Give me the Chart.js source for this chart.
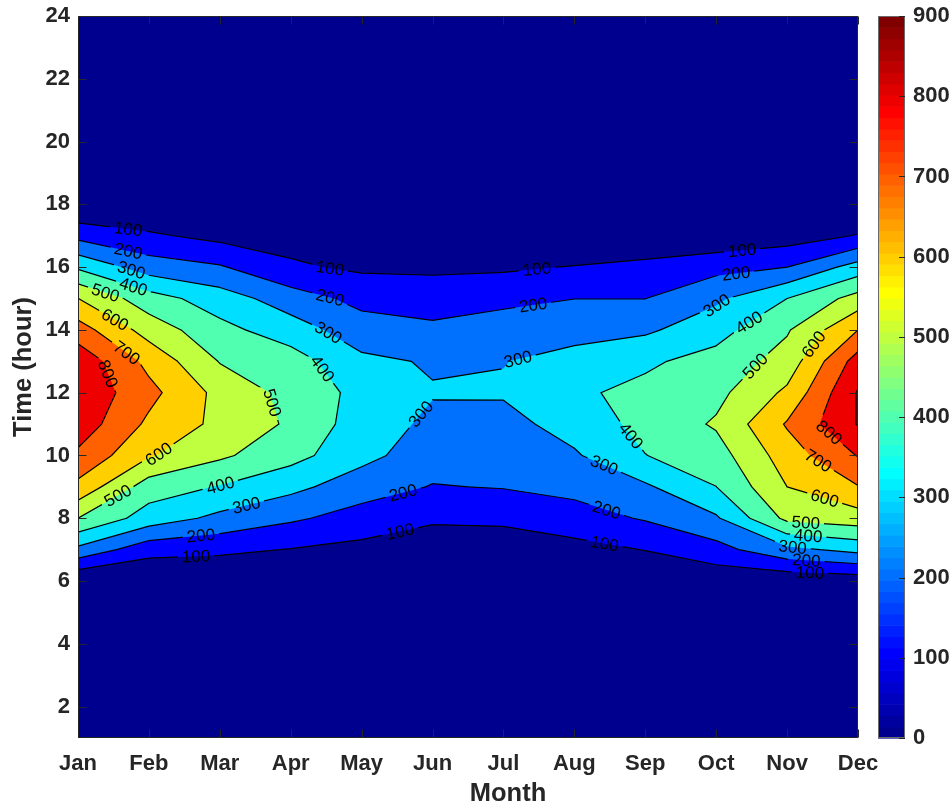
<!DOCTYPE html>
<html>
<head>
<meta charset="utf-8">
<script src="https://cdn.jsdelivr.net/npm/chart.js@4.4.1/dist/chart.umd.min.js"></script>
<style>
  html, body { margin: 0; padding: 0; background: #ffffff; }
  #wrap { width: 950px; height: 807px; }
</style>
</head>
<body>
<div id="wrap"><canvas id="chart" width="950" height="807"></canvas></div>
<script>
// Monthly mean radiation by hour of day (hours 1..24), one array per month.
const monthNames = ['Jan', 'Feb', 'Mar', 'Apr', 'May', 'Jun', 'Jul', 'Aug', 'Sep', 'Oct', 'Nov', 'Dec'];
const hours = [1, 2, 3, 4, 5, 6, 7, 8, 9, 10, 11, 12, 13, 14, 15, 16, 17, 18, 19, 20, 21, 22, 23, 24];

//           1  2  3  4  5   6    7    8    9   10   11   12   13   14   15   16   17  18 19 20 21 22 23 24
const jan = [0, 0, 0, 0, 0,  0, 275, 500, 673, 781, 860, 880, 870, 745, 601, 384, 170, 0, 0, 0, 0, 0, 0, 0];
const feb = [0, 0, 0, 0, 0,  0, 137, 354, 450, 610, 680, 730, 671, 558, 444, 250, 115, 0, 0, 0, 0, 0, 0, 0];
const mar = [0, 0, 0, 0, 0,  0, 122, 275, 394, 517, 575, 570, 495, 430, 349, 210,  71, 0, 0, 0, 0, 0, 0, 0];
const apr = [0, 0, 0, 0, 0,  0,  96, 216, 327, 435, 485, 470, 447, 347, 249, 113,  66, 0, 0, 0, 0, 0, 0, 0];
const may = [0, 0, 0, 0, 0,  0,  72, 159, 246, 330, 350, 370, 321, 247, 169,  84,   0, 0, 0, 0, 0, 0, 0, 0];
const jun = [0, 0, 0, 0, 0,  0,   0, 125, 195, 244, 280, 306, 291, 226, 140,  86,   0, 0, 0, 0, 0, 0, 0, 0];
const jul = [0, 0, 0, 0, 0,  0,  39, 121, 205, 240, 268, 310, 297, 256, 171,  86,   0, 0, 0, 0, 0, 0, 0, 0];
const aug = [0, 0, 0, 0, 0,  0,  67, 157, 230, 288, 340, 385, 334, 266, 199, 105,   0, 0, 0, 0, 0, 0, 0, 0];
const sep = [0, 0, 0, 0, 0,  0, 103, 209, 285, 398, 430, 425, 384, 283, 199, 133,   0, 0, 0, 0, 0, 0, 0, 0];
const oct = [0, 0, 0, 0, 0, 30, 165, 287, 399, 456, 512, 472, 437, 362, 282, 169,  20, 0, 0, 0, 0, 0, 0, 0];
const nov = [0, 0, 0, 0, 0, 25, 275, 525, 600, 650, 710, 620, 540, 490, 400, 200,  50, 0, 0, 0, 0, 0, 0, 0];
const dec = [0, 0, 0, 0, 0, 42, 329, 555, 695, 805, 906, 908, 845, 700, 538, 342, 106, 0, 0, 0, 0, 0, 0, 0];

const monthly = [jan, feb, mar, apr, may, jun, jul, aug, sep, oct, nov, dec];

// Contour levels, axis ticks and colour limits
const levels = [0, 100, 200, 300, 400, 500, 600, 700, 800, 900];
const hourTicks = [2, 4, 6, 8, 10, 12, 14, 16, 18, 20, 22, 24];
const colorTicks = [0, 100, 200, 300, 400, 500, 600, 700, 800, 900];
const colorLimits = [0, 900];
const xTitle = 'Month';
const yTitle = 'Time (hour)';

// Inline contour labels: [level, month position, hour] – snapped onto the computed line
const labelSpots = [
  [100, 1.705, 17.15], [200, 1.705, 16.48], [300, 1.748, 15.88], [400, 1.776, 15.34],
  [500, 1.367, 15.05], [600, 1.494, 14.22], [700, 1.677, 13.24], [800, 1.353, 12.54],
  [500, 3.778, 11.71], [600, 2.058, 10.31], [500, 1.564, 8.71], [400, 3.017, 8.97],
  [300, 3.384, 8.33], [200, 2.735, 7.41], [100, 2.664, 6.77],
  [100, 4.554, 15.94], [200, 4.554, 15.02], [300, 4.554, 14.0], [400, 4.385, 12.66],
  [300, 5.936, 11.13], [200, 5.584, 8.81], [100, 5.542, 7.57],
  [100, 7.474, 15.88], [200, 7.418, 14.8], [300, 7.22, 12.92],
  [400, 8.743, 10.53], [300, 8.405, 9.61], [200, 8.433, 8.11], [100, 8.419, 7.09],
  [100, 10.365, 16.55], [200, 10.28, 15.82], [300, 10.03, 14.7], [400, 10.53, 14.0],
  [500, 10.59, 12.76], [600, 11.39, 13.52],
  [800, 11.55, 10.62], [700, 11.465, 9.92], [600, 11.55, 8.78], [500, 11.27, 8.08],
  [400, 11.3, 7.5], [300, 11.08, 7.12], [200, 11.27, 6.58], [100, 11.32, 6.1]
];

const FONT = '"Liberation Sans", Arial, Helvetica, sans-serif';
const INK = '#262626';
const LABEL_FONT = '17px ' + FONT;

// MATLAB-style jet colormap with 64 entries
const JET_N = 64;
function jetRGB(index) { // index 1..64
  const u = k => (k < 1 || k > 47) ? 0 : (k <= 16 ? k / 16 : (k <= 31 ? 1 : (48 - k) / 16));
  const r = u(index - 24), g = u(index - 8), b = u(index + 8);
  return 'rgb(' + Math.round(255 * r) + ',' + Math.round(255 * g) + ',' + Math.round(255 * b) + ')';
}
function levelColor(v) {
  const t = (v - colorLimits[0]) / (colorLimits[1] - colorLimits[0]);
  const idx = Math.max(1, Math.min(JET_N, Math.floor(t * JET_N) + 1));
  return jetRGB(idx);
}

// Marching squares on one cell: region >= L and the iso-segments
function cellClip(i, j, L) {
  const cx = [i, i + 1, i + 1, i];
  const cy = [j, j, j + 1, j + 1];
  const cv = [monthly[i][j], monthly[i + 1][j], monthly[i + 1][j + 1], monthly[i][j + 1]];
  const poly = [], cross = [];
  for (let k = 0; k < 4; k++) {
    const k2 = (k + 1) % 4;
    const a = cv[k] >= L, b = cv[k2] >= L;
    if (a) poly.push([cx[k], cy[k]]);
    if (a !== b) {
      const t = (L - cv[k]) / (cv[k2] - cv[k]);
      const p = [cx[k] + t * (cx[k2] - cx[k]), cy[k] + t * (cy[k2] - cy[k])];
      poly.push(p);
      cross.push({ p, exit: a });
    }
  }
  const segs = [];
  for (let c = 0; c < cross.length; c++) {
    if (cross[c].exit) segs.push([cross[c].p, cross[(c + 1) % cross.length].p]);
  }
  return { poly, segs };
}

const contourPlugin = {
  id: 'contourFill',
  afterDraw(chart) {
    const ctx = chart.ctx;
    const area = chart.chartArea;
    const sx = chart.scales.x, sy = chart.scales.y, sc = chart.scales.cb;
    const px = m => sx.getPixelForValue(m);
    const py = h => sy.getPixelForValue(h);
    // grid index (month i, hour j) -> pixel
    const toPix = p => [px(p[0] + 1), py(p[1] + hours[0])];

    ctx.save();
    ctx.beginPath();
    ctx.rect(area.left, area.top, area.right - area.left, area.bottom - area.top);
    ctx.clip();

    // filled bands
    const nI = monthly.length, nJ = hours.length;
    const segsByLevel = {};
    levels.forEach(L => {
      ctx.beginPath();
      const segs = [];
      for (let i = 0; i < nI - 1; i++) {
        for (let j = 0; j < nJ - 1; j++) {
          const { poly, segs: s } = cellClip(i, j, L);
          if (poly.length >= 3) {
            const p0 = toPix(poly[0]);
            ctx.moveTo(p0[0], p0[1]);
            for (let k = 1; k < poly.length; k++) {
              const p = toPix(poly[k]);
              ctx.lineTo(p[0], p[1]);
            }
            ctx.closePath();
          }
          s.forEach(seg => segs.push([toPix(seg[0]), toPix(seg[1])]));
        }
      }
      ctx.fillStyle = levelColor(L);
      ctx.fill('nonzero');
      segsByLevel[L] = segs;
    });
    ctx.restore();

    // label placement on the contour lines
    ctx.font = LABEL_FONT;
    const placed = [];
    labelSpots.forEach(([L, m, h]) => {
      const tx = px(m), ty = py(h);
      let best = null;
      (segsByLevel[L] || []).forEach(([a, b]) => {
        const dx = b[0] - a[0], dy = b[1] - a[1];
        const len2 = dx * dx + dy * dy;
        if (len2 < 1e-9) return;
        let t = ((tx - a[0]) * dx + (ty - a[1]) * dy) / len2;
        t = Math.max(0, Math.min(1, t));
        const qx = a[0] + t * dx, qy = a[1] + t * dy;
        const d = (qx - tx) ** 2 + (qy - ty) ** 2;
        if (!best || d < best.d) best = { d, x: qx, y: qy, ang: Math.atan2(dy, dx) };
      });
      if (!best) return;
      let ang = best.ang;
      if (ang > Math.PI / 2) ang -= Math.PI;
      if (ang <= -Math.PI / 2) ang += Math.PI;
      const text = String(L);
      const w = ctx.measureText(text).width;
      placed.push({ x: best.x, y: best.y, ang, text, w });
    });

    // contour lines with gaps under the labels
    ctx.save();
    ctx.beginPath();
    ctx.rect(area.left, area.top, area.right - area.left, area.bottom - area.top);
    placed.forEach(lb => {
      const hw = lb.w / 2 + 4, hh = 9;
      const c = Math.cos(lb.ang), s = Math.sin(lb.ang);
      const pts = [[-hw, -hh], [hw, -hh], [hw, hh], [-hw, hh]].map(([u, v]) => [lb.x + u * c - v * s, lb.y + u * s + v * c]);
      ctx.moveTo(pts[0][0], pts[0][1]);
      for (let k = 1; k < 4; k++) ctx.lineTo(pts[k][0], pts[k][1]);
      ctx.closePath();
    });
    ctx.clip('evenodd');
    ctx.strokeStyle = '#000000';
    ctx.lineWidth = 1.2;
    ctx.lineCap = 'round';
    ctx.lineJoin = 'round';
    levels.slice(1).forEach(L => {
      ctx.beginPath();
      segsByLevel[L].forEach(([a, b]) => { ctx.moveTo(a[0], a[1]); ctx.lineTo(b[0], b[1]); });
      ctx.stroke();
    });
    ctx.restore();

    // label text
    ctx.save();
    ctx.fillStyle = '#000000';
    ctx.font = LABEL_FONT;
    ctx.textAlign = 'center';
    ctx.textBaseline = 'middle';
    placed.forEach(lb => {
      ctx.save();
      ctx.translate(lb.x, lb.y);
      ctx.rotate(lb.ang);
      ctx.fillText(lb.text, 0, 1);
      ctx.restore();
    });
    ctx.restore();

    // axes box and inward ticks
    ctx.save();
    ctx.strokeStyle = INK;
    ctx.lineWidth = 1;
    const L0 = Math.round(area.left) + 0.5, R0 = Math.round(area.right) - 0.5;
    const T0 = Math.round(area.top) + 0.5, B0 = Math.round(area.bottom) - 0.5;
    ctx.strokeRect(L0, T0, R0 - L0, B0 - T0);
    ctx.beginPath();
    monthNames.forEach((n, i) => {
      const x = Math.round(px(i + 1)) + 0.5;
      ctx.moveTo(x, B0); ctx.lineTo(x, B0 - 8);
      ctx.moveTo(x, T0); ctx.lineTo(x, T0 + 8);
    });
    hourTicks.forEach(h => {
      const y = Math.round(py(h)) + 0.5;
      ctx.moveTo(L0, y); ctx.lineTo(L0 + 8, y);
      ctx.moveTo(R0, y); ctx.lineTo(R0 - 8, y);
    });
    ctx.stroke();
    ctx.restore();

    // colour bar
    const cbL = Math.round(area.right) + 20, cbW = 27;
    ctx.save();
    for (let k = 0; k < JET_N; k++) {
      const v0 = colorLimits[0] + (colorLimits[1] - colorLimits[0]) * k / JET_N;
      const v1 = colorLimits[0] + (colorLimits[1] - colorLimits[0]) * (k + 1) / JET_N;
      const y0 = sc.getPixelForValue(v0), y1 = sc.getPixelForValue(v1);
      ctx.fillStyle = jetRGB(k + 1);
      ctx.fillRect(cbL, y1, cbW, y0 - y1 + 0.6);
    }
    ctx.strokeStyle = '#6a6a6a';
    ctx.lineWidth = 1;
    const cT = Math.round(sc.getPixelForValue(colorLimits[1])) + 0.5;
    const cB = Math.round(sc.getPixelForValue(colorLimits[0])) - 0.5;
    ctx.strokeRect(cbL + 0.5, cT, cbW - 1, cB - cT);
    ctx.strokeStyle = INK;
    ctx.beginPath();
    colorTicks.forEach(v => {
      const y = Math.round(sc.getPixelForValue(v)) + 0.5;
      ctx.moveTo(cbL + cbW, y); ctx.lineTo(cbL + cbW - 6, y);
    });
    ctx.stroke();
    ctx.restore();

    // axis titles
    ctx.save();
    ctx.fillStyle = INK;
    ctx.font = 'bold 25.5px ' + FONT;
    ctx.textAlign = 'center';
    ctx.textBaseline = 'middle';
    ctx.fillText(xTitle, (area.left + area.right) / 2 + 40, area.bottom + 56);
    ctx.translate(24, (area.top + area.bottom) / 2 - 10);
    ctx.rotate(-Math.PI / 2);
    ctx.fillText(yTitle, 0, 0);
    ctx.restore();
  }
};

Chart.defaults.font.family = FONT;
Chart.defaults.color = INK;

const tickFont = { family: FONT, size: 22, weight: 'bold' };

// vertical scales: keep only half a label of overhang above/below the plot
const trimVertical = width => s => { s.width = width; s.paddingTop = 12; s.paddingBottom = 12; };

new Chart(document.getElementById('chart'), {
  type: 'scatter',
  data: { datasets: [] },
  options: {
    responsive: false,
    devicePixelRatio: 1,
    animation: false,
    layout: { padding: { top: 16, left: 0, right: 0, bottom: 0 } },
    plugins: { legend: { display: false }, tooltip: { enabled: false } },
    scales: {
      x: {
        type: 'linear', position: 'bottom', min: 1, max: monthNames.length,
        afterBuildTicks: s => { s.ticks = monthNames.map((n, i) => ({ value: i + 1 })); },
        afterFit: s => { s.height = 69; },
        ticks: { callback: v => monthNames[v - 1], font: tickFont, color: INK, padding: 13, maxRotation: 0, autoSkip: false },
        grid: { display: false, drawTicks: false },
        border: { display: false },
        title: { display: false }
      },
      y: {
        type: 'linear', position: 'left', min: hours[0], max: hours[hours.length - 1],
        afterBuildTicks: s => { s.ticks = hourTicks.map(v => ({ value: v })); },
        afterFit: trimVertical(78),
        ticks: { font: tickFont, color: INK, padding: 8 },
        grid: { display: false, drawTicks: false },
        border: { display: false },
        title: { display: false }
      },
      cb: {
        type: 'linear', position: 'right', min: colorLimits[0], max: colorLimits[1],
        afterBuildTicks: s => { s.ticks = colorTicks.map(v => ({ value: v })); },
        afterFit: trimVertical(92),
        ticks: { font: tickFont, color: INK, padding: 55 },
        grid: { display: false, drawTicks: false },
        border: { display: false }
      }
    }
  },
  plugins: [contourPlugin]
});
</script>
</body>
</html>
